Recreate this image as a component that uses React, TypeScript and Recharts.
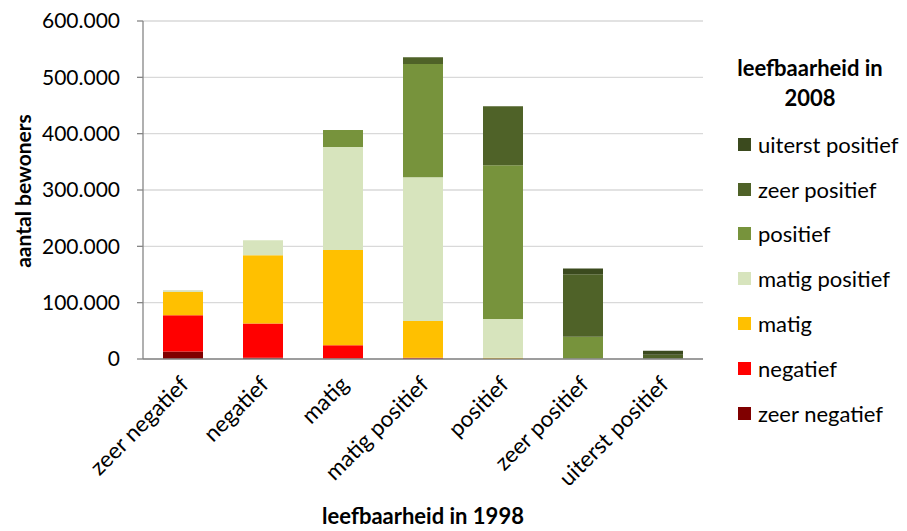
import { BarChart, Bar, XAxis, YAxis, CartesianGrid, Legend, Label } from "recharts";

const categories = [
  "zeer negatief",
  "negatief",
  "matig",
  "matig positief",
  "positief",
  "zeer positief",
  "uiterst positief",
];

// values per 2008 class, indexed by the 1998 class
const zeerNegatief = [13500, 2000, 500, 0, 0, 0, 0];
const negatief = [64000, 61000, 24000, 2000, 0, 0, 0];
const matig = [41500, 121000, 169000, 65500, 2000, 0, 0];
const matigPositief = [1500, 27000, 183000, 255000, 69000, 500, 0];
const positief = [500, 0, 30000, 201000, 273000, 39000, 500];
const zeerPositief = [0, 0, 0, 12000, 104500, 111000, 7000];
const uiterstPositief = [0, 0, 0, 0, 0, 10000, 7000];

const yTicks = [0, 100000, 200000, 300000, 400000, 500000, 600000];

const series = [
  { key: "zeerNegatief", name: "zeer negatief", color: "#800000", values: zeerNegatief },
  { key: "negatief", name: "negatief", color: "#FF0000", values: negatief },
  { key: "matig", name: "matig", color: "#FFC000", values: matig },
  { key: "matigPositief", name: "matig positief", color: "#D7E4BD", values: matigPositief },
  { key: "positief", name: "positief", color: "#77933C", values: positief },
  { key: "zeerPositief", name: "zeer positief", color: "#4F6228", values: zeerPositief },
  { key: "uiterstPositief", name: "uiterst positief", color: "#3B4A1E", values: uiterstPositief },
];

const data = categories.map((c, i) => {
  const row: Record<string, string | number> = { cat: c };
  series.forEach((s) => (row[s.key] = s.values[i]));
  return row;
});

const FONT = "Lato, 'Open Sans', sans-serif";

const fmt = (v: number) => String(v).replace(/\B(?=(\d{3})+(?!\d))/g, ".");

function CategoryTick(props: any) {
  const { x, y, payload } = props;
  const tx = x + 7;
  const ty = y + 19;
  return (
    <text
      x={tx}
      y={ty}
      textAnchor="end"
      transform={`rotate(-45, ${tx}, ${ty})`}
      fontSize={22.5}
      fontFamily={FONT}
      fill="#000"
    >
      {payload.value}
    </text>
  );
}

function LegendBox() {
  const items = [...series].reverse();
  return (
    <div style={{ fontFamily: FONT, color: "#000", width: 190 }}>
      <div
        style={{
          fontWeight: 700,
          fontSize: 22,
          lineHeight: "30px",
          textAlign: "center",
          paddingTop: 3,
        }}
      >
        leefbaarheid in
        <br />
        2008
      </div>
      <div style={{ marginTop: 9 }}>
        {items.map((s) => (
          <div
            key={s.key}
            style={{
              height: 44.8,
              display: "flex",
              alignItems: "center",
              paddingLeft: 23,
              fontSize: 22,
              whiteSpace: "nowrap",
            }}
          >
            <span
              style={{ width: 13, height: 13, background: s.color, marginRight: 7, flex: "none" }}
            />
            <span>{s.name}</span>
          </div>
        ))}
      </div>
    </div>
  );
}

export default function App() {
  return (
    <div style={{ position: "absolute", left: 0, top: 0, width: 907, height: 531, background: "#fff" }}>
      <BarChart
        width={907}
        height={531}
        data={data}
        margin={{ top: 21, right: 204, bottom: 0, left: 0 }}
        barSize={40}
      >
        <CartesianGrid vertical={false} stroke="#D9D9D9" strokeWidth={1.3} />
        <XAxis
          dataKey="cat"
          height={172}
          interval={0}
          tick={<CategoryTick />}
          tickLine={false}
          axisLine={{ stroke: "#868686", strokeWidth: 1.3 }}
        >
          <Label
            value="leefbaarheid in 1998"
            position="insideBottom"
            offset={7}
            style={{ fontFamily: FONT, fontWeight: 700, fontSize: 22, fill: "#000" }}
          />
        </XAxis>
        <YAxis
          width={143}
          domain={[0, 600000]}
          ticks={yTicks}
          tickFormatter={fmt}
          tickSize={6}
          tickMargin={17}
          interval={0}
          tick={{ fontFamily: FONT, fontSize: 21, fill: "#000" }}
          axisLine={{ stroke: "#868686", strokeWidth: 1.3 }}
          tickLine={{ stroke: "#868686", strokeWidth: 1.3 }}
        >
          <Label
            content={() => (
              <text
                x={22}
                y={191}
                transform="rotate(-90, 22, 191)"
                textAnchor="middle"
                dominantBaseline="central"
                fontFamily={FONT}
                fontWeight={700}
                fontSize={21}
                fill="#000"
              >
                aantal bewoners
              </text>
            )}
          />
        </YAxis>
        <Legend
          layout="vertical"
          align="center"
          verticalAlign="middle"
          content={() => <LegendBox />}
          wrapperStyle={{ left: 715, top: 50, width: 192 }}
        />
        {series.map((s) => (
          <Bar
            key={s.key}
            dataKey={s.key}
            name={s.name}
            stackId="a"
            fill={s.color}
            isAnimationActive={false}
          />
        ))}
      </BarChart>
    </div>
  );
}
